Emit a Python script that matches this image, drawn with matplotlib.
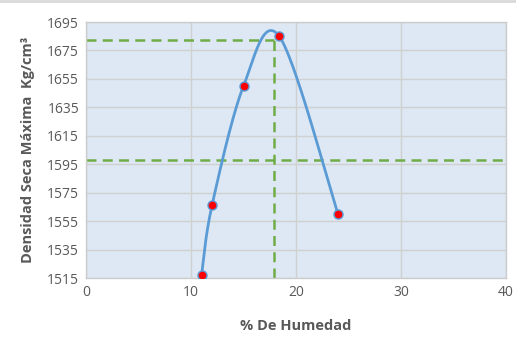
import numpy as np
import matplotlib
matplotlib.use("Agg")
import matplotlib.pyplot as plt
from matplotlib.lines import Line2D

# Proctor test results
humedad = [11.0, 12.0, 15.0, 18.4, 24.0]
densidad = [1517, 1566, 1650, 1685, 1560]

# Reference lines: optimum moisture / max dry density, and lower density bound
humedad_optima = 17.9
densidad_maxima = 1682
densidad_limite = 1598

x_ticks = [0, 10, 20, 30, 40]
y_ticks = [1515, 1535, 1555, 1575, 1595, 1615, 1635, 1655, 1675, 1695]


def smooth_curve(xs, ys, n=60):
    """Bezier smoothing through the points (spreadsheet-style smoothed line)."""
    xs = np.asarray(xs, float)
    ys = np.asarray(ys, float)
    px = np.concatenate([[xs[0]], xs, [xs[-1]]])
    py = np.concatenate([[ys[0]], ys, [ys[-1]]])
    out_x, out_y = [], []
    t = np.linspace(0, 1, n)
    for i in range(1, len(px) - 2):
        p0 = np.array([px[i], py[i]])
        p3 = np.array([px[i + 1], py[i + 1]])
        c1 = p0 + (np.array([px[i + 1], py[i + 1]]) - np.array([px[i - 1], py[i - 1]])) / 6
        c2 = p3 - (np.array([px[i + 2], py[i + 2]]) - np.array([px[i], py[i]])) / 6
        b = ((1 - t) ** 3)[:, None] * p0 + (3 * (1 - t) ** 2 * t)[:, None] * c1 \
            + (3 * (1 - t) * t ** 2)[:, None] * c2 + (t ** 3)[:, None] * p3
        out_x.extend(b[:, 0])
        out_y.extend(b[:, 1])
    return np.array(out_x), np.array(out_y)


plt.rcParams['font.family'] = ['Open Sans', 'DejaVu Sans']
gray_text = '#595959'

fig = plt.figure(figsize=(5.16, 3.38), dpi=100)
ax = fig.add_axes([86 / 516, 1 - 278 / 338, 420 / 516, 256 / 338])
ax.set_facecolor('#DDE8F4')

ax.set_xlim(0, 40)
ax.set_ylim(1515, 1695)
ax.set_xticks(x_ticks)
ax.set_yticks(y_ticks)
ax.grid(True, color='#D0D0D0', linewidth=1.0)
ax.set_axisbelow(True)
for s in ax.spines.values():
    s.set_color('#CCCCCC')
    s.set_linewidth(1.0)
ax.tick_params(length=0, labelsize=10, colors=gray_text, pad=5)

# dashed guide lines
ax.plot([0, humedad_optima], [densidad_maxima, densidad_maxima],
        color='#70AD47', lw=1.8, ls=(0, (4, 2.5)), zorder=2)
ax.plot([humedad_optima, humedad_optima], [1515, densidad_maxima],
        color='#70AD47', lw=1.8, ls=(0, (4, 2.5)), zorder=2)
ax.axhline(densidad_limite, color='#70AD47', lw=1.8, ls=(0, (4, 2.5)), zorder=2)

cx, cy = smooth_curve(humedad, densidad)
ax.plot(cx, cy, color='#5B9BD5', lw=2.0, zorder=3, solid_capstyle='round')
ax.plot(humedad, densidad, ls='none', marker='o', markersize=6.5,
        markerfacecolor='#FF0000', markeredgecolor='#5B9BD5',
        markeredgewidth=1.0, zorder=4)

ax.set_xlabel('% De Humedad', fontsize=10.5, fontweight='bold',
              color=gray_text, labelpad=14)
ax.set_ylabel('Densidad Seca Máxima  Kg/cm³', fontsize=10.5, fontweight='bold',
              color=gray_text, labelpad=9)

# thin gray rule along the top edge of the chart area
fig.add_artist(Line2D([0, 1], [0.997, 0.997], transform=fig.transFigure,
                      color='#D9D9D9', lw=2))

fig.savefig('out.png', dpi=100)
